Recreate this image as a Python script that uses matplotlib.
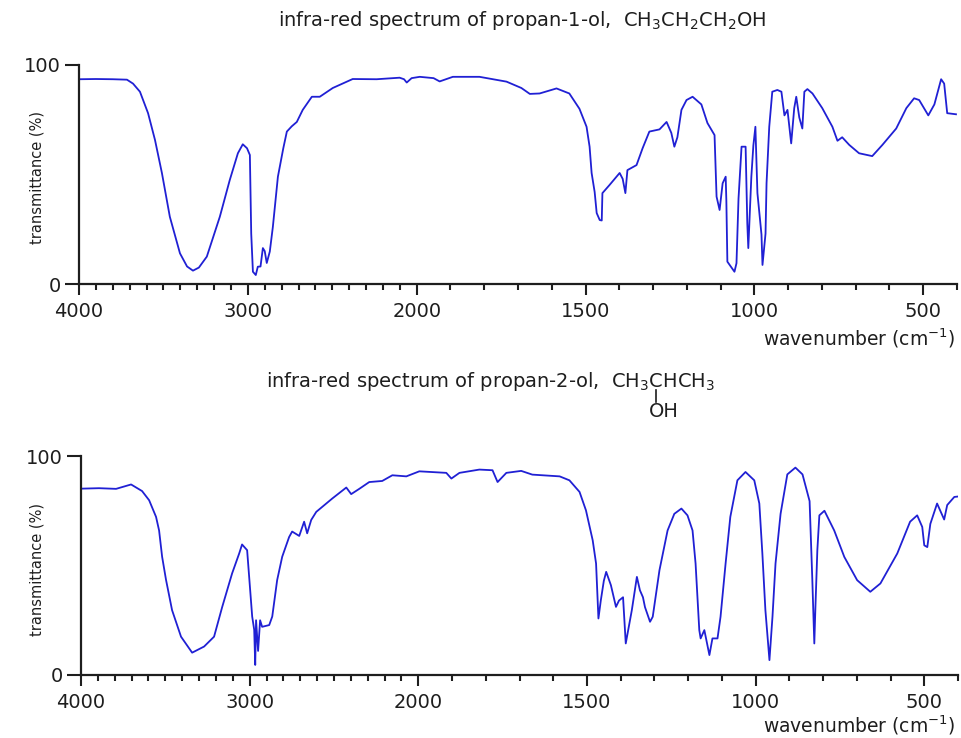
import numpy as np
import matplotlib
matplotlib.use('Agg')
import matplotlib.pyplot as plt
from matplotlib.ticker import FixedLocator, FuncFormatter
from matplotlib.lines import Line2D

# propan-1-ol (wavenumber, transmittance %)
wn1 = [4000, 3900, 3800, 3716, 3680, 3639, 3591, 3550, 3509, 3462, 3402, 3360, 3325, 3290,
       3243, 3166, 3107, 3059, 3030, 3005, 2988, 2980, 2970, 2953, 2941, 2925, 2911, 2900,
       2888, 2870, 2852, 2822, 2790, 2769, 2740, 2710, 2675, 2621, 2574, 2497, 2379, 2237,
       2101, 2075, 2059, 2030, 1991, 1950, 1932, 1893, 1814, 1734, 1690, 1665, 1636, 1586,
       1548, 1518, 1497, 1488, 1482, 1473, 1467, 1458, 1452, 1450, 1429, 1399, 1390, 1382,
       1376, 1349, 1331, 1311, 1281, 1260, 1246, 1237, 1228, 1216, 1201, 1183, 1157, 1139,
       1118, 1112, 1103, 1094, 1085, 1083, 1080, 1059, 1053, 1047, 1038, 1026, 1021, 1018,
       1009, 1003, 997, 991, 979, 976, 967, 964, 956, 947, 932, 920, 911, 902, 891, 882,
       876, 867, 858, 852, 843, 828, 799, 769, 754, 740, 719, 690, 651, 621, 580, 550, 527,
       512, 485, 467, 447, 438, 429, 403]
t1 = [93.5, 93.6, 93.5, 93.3, 91.5, 87.8, 78, 65.8, 50.7, 30.7, 14, 8, 6.1, 7.5,
      12.5, 30.7, 47.5, 59.7, 63.8, 62, 58.9, 23, 5.6, 4.1, 7.9, 8, 16.4, 15,
      9.6, 14.8, 26, 49, 62, 69.6, 72, 74, 79.5, 85.5, 85.5, 89.5, 93.6, 93.5,
      94.2, 93.5, 92, 94, 94.6, 94, 92.5, 94.6, 94.6, 92.4, 89.5, 86.8, 87, 89.3,
      87, 80, 71.8, 62.7, 50.7, 42, 32.4, 29.2, 29, 41.5, 45.2, 50.7, 48, 41.5,
      52, 54.3, 62, 69.6, 70.6, 74, 69, 62.7, 67, 79.5, 84, 85.5, 82, 73.5,
      68, 39.9, 33.8, 46, 49, 38, 10.2, 5.6, 9.5, 39, 62.7, 62.7, 27.8, 16.4,
      49, 63.3, 71.8, 41.5, 22.6, 8.7, 23, 46, 71.8, 87.8, 88.6, 87.8, 77, 79.5, 64.2, 80.3,
      85.5, 76, 71, 87.8, 89, 87, 80.3, 71.8, 65.4, 67, 63.5, 59.7, 58.4, 63.5, 71, 80.3, 84.8,
      84, 77, 82, 93.5, 91.5, 78, 77.5]

# propan-2-ol
wn2 = [4000, 3994, 3893, 3792, 3703, 3638, 3596, 3555, 3537, 3519, 3496, 3460, 3407, 3341,
       3270, 3211, 3163, 3104, 3062, 3045, 3015, 2985, 2973, 2967, 2962, 2950, 2938, 2926,
       2884, 2866, 2837, 2807, 2766, 2748, 2706, 2677, 2659, 2635, 2605, 2546, 2510, 2427,
       2398, 2350, 2291, 2214, 2154, 2071, 1997, 1917, 1902, 1878, 1819, 1780, 1765, 1739,
       1695, 1662, 1581, 1552, 1522, 1503, 1483, 1473, 1466, 1459, 1450, 1443, 1429, 1414,
       1405, 1393, 1385, 1376, 1367, 1352, 1343, 1334, 1328, 1313, 1305, 1285, 1261, 1241,
       1220, 1202, 1187, 1178, 1167, 1163, 1152, 1146, 1137, 1128, 1113, 1104, 1089, 1075,
       1054, 1030, 1004, 989, 980, 971, 959, 950, 941, 926, 906, 882, 861, 840, 832, 826,
       823, 817, 811, 796, 767, 737, 699, 660, 630, 580, 542, 521, 506, 500, 491, 482, 462,
       441, 432, 411, 400]
t2 = [85, 85.1, 85.3, 85, 87, 84, 79.8, 72.2, 66, 54, 43.5, 29.6, 17.5, 10.2,
      13, 17.5, 31, 46.4, 55.5, 59.6, 57, 26.7, 20.6, 4.6, 25, 11, 25, 22,
      22.8, 26.7, 43.3, 54, 63, 65.5, 63.5, 70, 64.7, 70.8, 74.5, 78.3, 80.6, 85.6,
      82.6, 85, 88.1, 88.6, 91.2, 90.7, 93, 92.3, 89.7, 92.3, 93.8, 93.5, 88.1, 92.3,
      93.2, 91.5, 90.7, 88.9, 83.6, 75.2, 61.5, 50.9, 25.8, 34, 43, 47.1, 41, 31.1,
      34, 35.5, 14.4, 22, 29.6, 44.8, 38.7, 35.5, 31, 24.3, 26.6, 47.9, 66, 73.6,
      76, 72.9, 66, 50.9, 20.5, 16.7, 20.5, 16, 9.1, 16.7, 16.7, 26.6, 50.9, 72.2,
      88.9, 92.7, 88.9, 78.3, 55.5, 29.6, 6.8, 26.6, 50.9, 73.6, 91.6, 94.7, 91.6, 79.4, 44, 14.4,
      29.6, 57, 72.9, 75, 66, 53.9, 43.3, 38, 41.8, 55.5, 70, 72.9, 67.6, 59.2, 58.4, 69, 78.3,
      71, 77.6, 81.3, 81.5]

major_wn = [4000, 3000, 2000, 1500, 1000, 500]
minor_wn = [w for w in range(400, 4000, 100) if w not in major_wn]

W, H = 961, 738
blue = '#2020d4'
ink = '#1e1e1e'
plt.rcParams['font.family'] = ['DejaVu Sans']


# the scale is doubled below 2000 cm-1
def fwd(x):
    x = np.asarray(x, dtype=float)
    return np.where(x >= 2000, x, 2 * x - 2000)


def inv(u):
    u = np.asarray(u, dtype=float)
    return np.where(u >= 2000, u, (u + 2000) / 2)


def spectrum(rect, wn, t):
    ax = fig.add_axes(rect)
    ax.plot(wn, t, color=blue, lw=1.3)
    ax.set_xscale('function', functions=(fwd, inv))
    ax.set_xlim(4000, 400)
    ax.set_ylim(0, 100)
    for s in ['top', 'right']:
        ax.spines[s].set_visible(False)
    for s in ['left', 'bottom']:
        ax.spines[s].set_linewidth(1.6)
        ax.spines[s].set_color(ink)
    ax.xaxis.set_major_locator(FixedLocator(major_wn))
    ax.xaxis.set_minor_locator(FixedLocator(minor_wn))
    ax.xaxis.set_major_formatter(FuncFormatter(lambda v, p: '%d' % round(v)))
    ax.set_yticks([0, 100])
    ax.set_yticklabels(['0', '100'])
    ax.tick_params(axis='x', which='major', length=8, width=1.5, pad=5, labelsize=14,
                   color=ink, labelcolor=ink)
    ax.tick_params(axis='x', which='minor', length=4, width=1.5, color=ink)
    ax.tick_params(axis='y', which='major', length=10, width=1.5, pad=3, labelsize=14,
                   color=ink, labelcolor=ink)
    ax.patch.set_visible(False)
    return ax


fig = plt.figure(figsize=(W / 100, H / 100), dpi=100)

ax1 = spectrum([79 / W, 1 - 284 / H, 878 / W, 219 / H], wn1, t1)
ax2 = spectrum([81 / W, 1 - 675 / H, 877 / W, 219 / H], wn2, t2)

tkw = dict(fontsize=14, color=ink)
fig.text(522 / W, 1 - 20 / H, r'infra-red spectrum of propan-1-ol,  CH$_3$CH$_2$CH$_2$OH',
         ha='center', va='center', **tkw)

r = fig.canvas.get_renderer()


def width(s):
    tmp = fig.text(0, 0, s, **tkw)
    w = tmp.get_window_extent(r).width
    tmp.remove()
    return w


prefix = r'infra-red spectrum of propan-2-ol,  CH$_3$'
title2 = prefix + r'CHCH$_3$'
x0 = 491 - width(title2) / 2
y0 = 1 - 387 / H
fig.text(x0 / W, y0, title2, ha='left', va='baseline', **tkw)

# "OH" hangs under the middle C
xc = x0 + width(prefix) + width('C') / 2
fig.text((xc - width('O') / 2) / W, 1 - 417 / H, 'OH', ha='left', va='baseline', **tkw)
fig.add_artist(Line2D([xc / W, xc / W], [1 - 390 / H, 1 - 402 / H], color=ink, lw=1.2))

for yl, yx in [(178, 338), (569, 725)]:
    fig.text(37 / W, 1 - yl / H, 'transmittance (%)', rotation=90, ha='center', va='center',
             fontsize=10.5, color=ink)
    fig.text(955 / W, 1 - yx / H, r'wavenumber (cm$^{-1}$)', ha='right', va='center',
             fontsize=13.5, color=ink)

fig.savefig('out.png', dpi=100)
